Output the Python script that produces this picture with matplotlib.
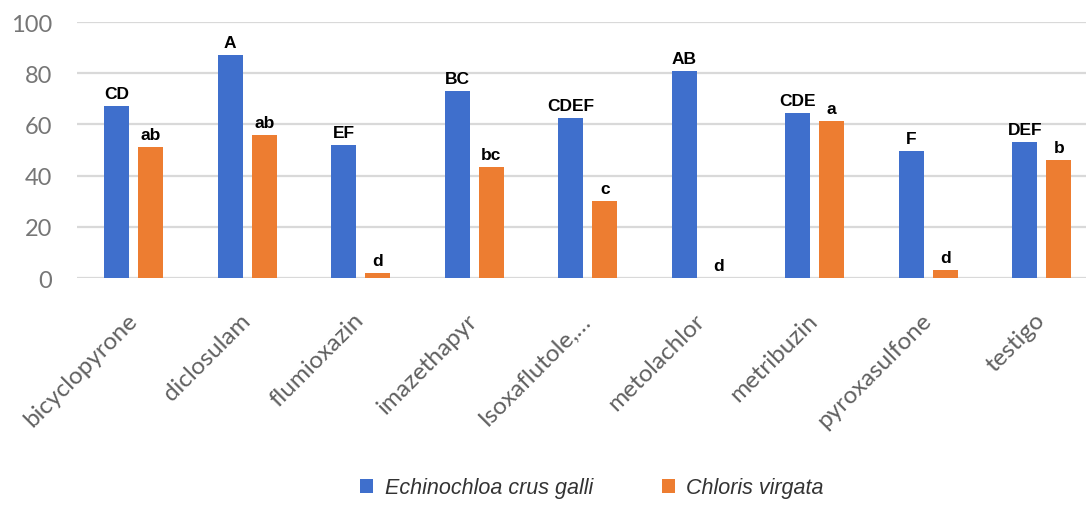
import matplotlib
matplotlib.use("Agg")
import matplotlib.pyplot as plt
import matplotlib.transforms as mtransforms
from matplotlib.patches import Patch
import numpy as np

# Herbicide treatments and control (%) for the two weed species
categories = ["bicyclopyrone", "diclosulam", "flumioxazin", "imazethapyr",
              "Isoxaflutole,\u2026", "metolachlor", "metribuzin",
              "pyroxasulfone", "testigo"]
echinochloa = [67, 87, 52, 73, 62.5, 81, 64.5, 49.5, 53]
chloris = [51, 56, 2, 43.5, 30, 0, 61.5, 3, 46]

# Significance letters shown above each bar
echinochloa_letters = ["CD", "A", "EF", "BC", "CDEF", "AB", "CDE", "F", "DEF"]
chloris_letters = ["ab", "ab", "d", "bc", "c", "d", "a", "d", "b"]

yticks = [0, 20, 40, 60, 80, 100]

series_names = ["Echinochloa crus galli", "Chloris virgata"]
blue = "#3F6FCC"
orange = "#ED7D31"
grid_color = "#d9d9d9"

W, H = 1086, 506
fig = plt.figure(figsize=(W / 100, H / 100), dpi=100)
fig.patch.set_facecolor("white")

left_px, right_px, top_px, bottom_px = 77, 1098.5, 23, 279
ax = fig.add_axes([left_px / W, (H - bottom_px) / H,
                   (right_px - left_px) / W, (bottom_px - top_px) / H])

x = np.arange(len(categories))
width = 0.22
offset = 0.15

bars_e = ax.bar(x - offset, echinochloa, width, color=blue, zorder=3)
bars_c = ax.bar(x + offset, chloris, width, color=orange, zorder=3)

# Letters above bars
for bars, letters in ((bars_e, echinochloa_letters), (bars_c, chloris_letters)):
    for rect, lab in zip(bars, letters):
        ax.annotate(lab, (rect.get_x() + rect.get_width() / 2, rect.get_height()),
                    xytext=(0, 5.8), textcoords="offset points",
                    ha="center", va="baseline", fontsize=12.5,
                    fontweight="bold", family="Liberation Sans", color="black",
                    zorder=4)

ax.set_xlim(-0.5, len(categories) - 0.5)
ax.set_ylim(0, 100)
ax.set_yticks(yticks)
ax.yaxis.grid(True, color=grid_color, linewidth=1.6, zorder=0)
ax.set_axisbelow(True)
for s in ax.spines.values():
    s.set_visible(False)

ax.tick_params(axis="y", length=0, pad=18, labelsize=17, labelcolor="#767676")
for t in ax.get_yticklabels():
    t.set_family("Lato")

ax.set_xticks(x)
ax.set_xticklabels(categories)
ax.tick_params(axis="x", length=0, pad=31, labelsize=17.5, labelcolor="#606060")
shift = mtransforms.ScaledTranslation(4.5 / 100, 0, fig.dpi_scale_trans)
for t in ax.get_xticklabels():
    t.set_family("Lato")
    t.set_rotation(45)
    t.set_ha("right")
    t.set_va("baseline")
    t.set_rotation_mode("anchor")
    t.set_transform(t.get_transform() + shift)

handles = [Patch(facecolor=blue, edgecolor="none"),
           Patch(facecolor=orange, edgecolor="none")]
leg = fig.legend(handles, series_names, loc="center", ncol=2,
                 bbox_to_anchor=(0.545, 17 / H), frameon=False,
                 prop={"family": "Liberation Sans", "style": "italic", "size": 15.5},
                 handlelength=0.6, handleheight=0.6, handletextpad=0.55,
                 columnspacing=3.2, labelcolor="#333333")

fig.savefig("out.png", dpi=100, facecolor="white")
